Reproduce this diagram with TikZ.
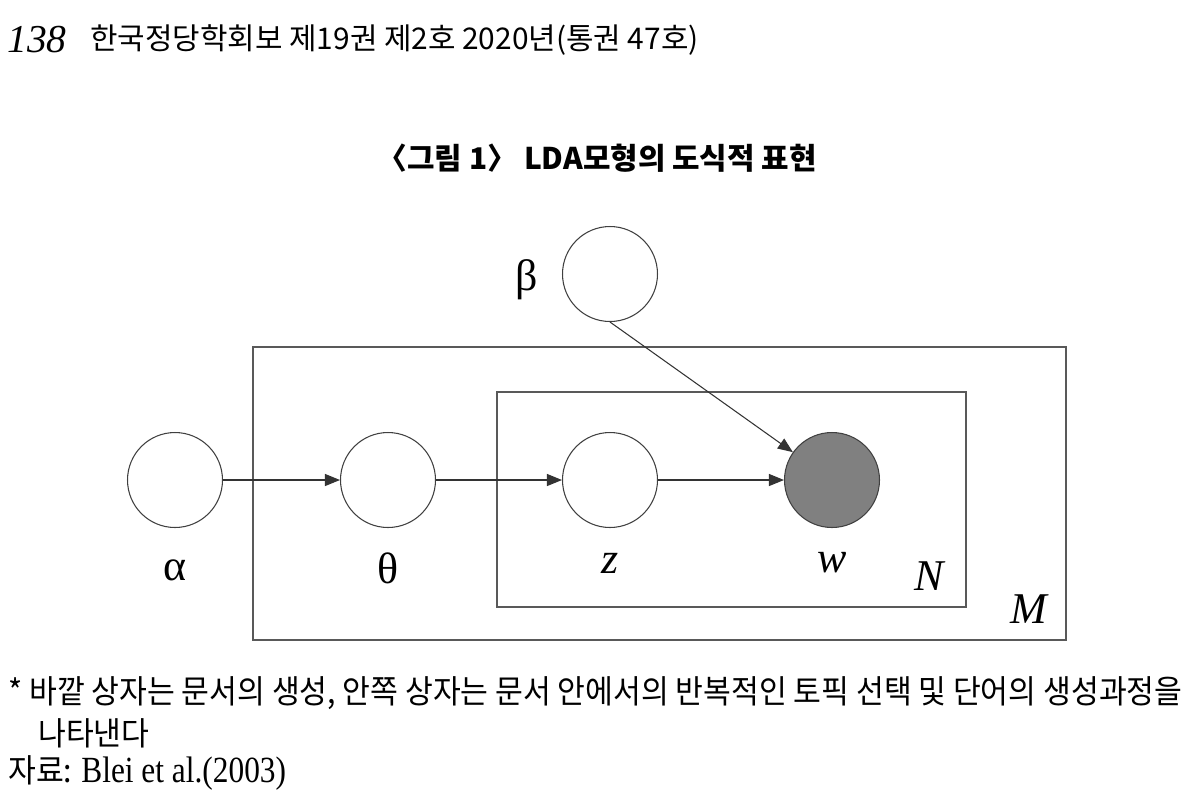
\documentclass[tikz,border=0pt]{standalone}
\usepackage{fontspec}
\setmainfont{Liberation Serif}
\newfontfamily\kor[FakeStretch=1.0]{Noto Sans CJK KR}
\newfontfamily\korn[FakeStretch=0.93]{Noto Sans CJK KR}
\newfontfamily\latn[FakeStretch=0.85]{Liberation Serif}
\usetikzlibrary{arrows.meta}

\begin{document}
\begin{tikzpicture}[x=0.02cm,y=-0.02cm,
  var/.style={circle,draw=black!75,line width=0.6pt,minimum size=1.9cm,inner sep=0pt},
  plate/.style={draw=black!65,line width=0.8pt},
  edge/.style={-{Triangle[length=0.3cm,width=0.24cm]},draw=black!80,line width=0.6pt},
  sym/.style={font=\fontsize{25}{25}\selectfont},
  note/.style={anchor=west,inner sep=0pt,font=\korn\fontsize{18.5}{18.5}\selectfont}]
\useasboundingbox (0,0) rectangle (1194,806);
\node[anchor=west,inner sep=0pt,font=\itshape\fontsize{22.5}{22.5}\selectfont] (page) at (7,40) {138};
\node[anchor=west,inner sep=0pt,font=\kor\fontsize{17}{17}\selectfont] (journal) at (90,40) {한국정당학회보 제19권 제2호 2020년(통권 47호)};
\node[inner sep=0pt,font=\kor\bfseries\fontsize{17}{17}\selectfont] (title) at (597,158) {〈그림 1〉 LDA모형의 도식적 표현};
\draw[plate] (253,347) rectangle (1066,640);
\draw[plate] (497,392) rectangle (966,607);
\node[var] (beta) at (610,274) {};
\node[var] (alpha) at (175,480) {};
\node[var] (theta) at (388,480) {};
\node[var] (z) at (610,480) {};
\node[var,fill=black!50] (w) at (832,480) {};
\node[sym] (lbeta) at (527,280) {β};
\node[sym] (lalpha) at (175,570) {α};
\node[sym] (ltheta) at (388,568) {θ};
\node[sym] (lz) at (610,563) {\itshape z};
\node[sym] (lw) at (832,563) {\itshape w};
\node[sym] (lN) at (929,576) {\itshape N};
\node[sym] (lM) at (1029,609) {\itshape M};
\draw[edge] (alpha) -- (theta);
\draw[edge] (theta) -- (z);
\draw[edge] (z) -- (w);
\draw[edge] (beta.south) -- (w);
\node[note] (note1) at (8,693) {* 바깥 상자는 문서의 생성, 안쪽 상자는 문서 안에서의 반복적인 토픽 선택 및 단어의 생성과정을};
\node[note] (note2) at (38,733) {나타낸다};
\node[note] (source) at (8,773) {자료: {\latn\fontsize{21}{21}\selectfont Blei et al.(2003)}};
\end{tikzpicture}
\end{document}
